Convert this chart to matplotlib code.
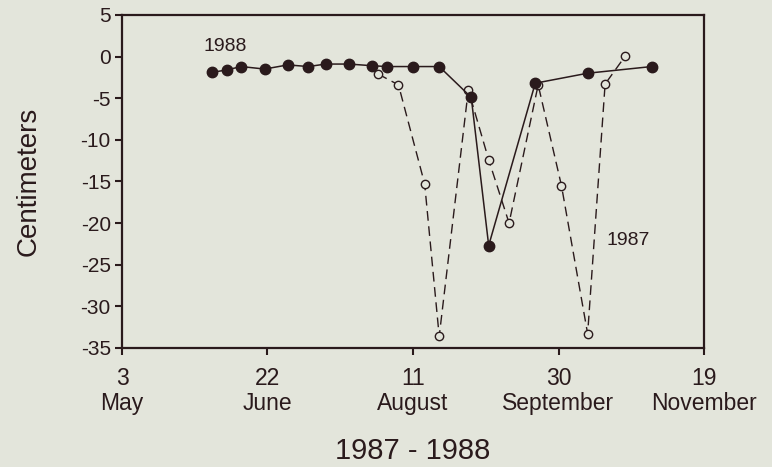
import matplotlib
matplotlib.use('Agg')
import matplotlib.pyplot as plt

plt.rcParams['font.family'] = ['Liberation Sans', 'DejaVu Sans']

# days after 3 May
days_1988 = [31, 36, 41, 49, 57, 64, 70, 78, 86, 91, 100, 109, 120, 126, 142, 160, 182]
cm_1988 = [-1.9, -1.6, -1.2, -1.5, -1.0, -1.2, -0.9, -0.9, -1.1, -1.2, -1.2, -1.2,
           -4.9, -22.7, -3.2, -2.0, -1.2]

days_1987 = [88, 95, 104, 109, 119, 126, 133, 143, 151, 160, 166, 173]
cm_1987 = [-2.1, -3.4, -15.3, -33.6, -4.0, -12.4, -20.0, -3.4, -15.5, -33.3, -3.3, 0.1]

tick_days = [0, 50, 100, 150, 200]
tick_labels = ['3\nMay', '22\nJune', '11\nAugust', '30\nSeptember', '19\nNovember']
y_ticks = [5, 0, -5, -10, -15, -20, -25, -30, -35]

bg = '#e3e5db'
ink = '#2a1a1c'

fig = plt.figure(figsize=(7.72, 4.67), dpi=100, facecolor=bg)
ax = fig.add_axes([0.158, 0.255, 0.754, 0.713], facecolor=bg)

ax.plot(days_1987, cm_1987, color=ink, lw=1.0, dashes=(7, 4),
        marker='o', ms=6, mfc=bg, mec=ink, mew=1.0)
ax.plot(days_1988, cm_1988, color=ink, lw=1.1, marker='o', ms=7.5,
        mfc=ink, mec=ink)

ax.text(35.4, 1.2, '1988', fontsize=14, color=ink, ha='center', va='center')
ax.text(174, -22.1, '1987', fontsize=14, color=ink, ha='center', va='center')

ax.set_xlim(0, 200)
ax.set_ylim(-35, 5)
ax.set_xticks(tick_days)
ax.set_xticklabels(tick_labels, fontsize=16.5, color=ink, linespacing=1.1)
ax.set_yticks(y_ticks)
ax.set_yticklabels([str(v) for v in y_ticks], fontsize=15, color=ink)
ax.tick_params(direction='out', length=5, width=1.5, color=ink)
ax.tick_params(axis='x', pad=9)
ax.tick_params(axis='y', pad=3)

for s in ax.spines.values():
    s.set_linewidth(1.6)
    s.set_color(ink)

ax.set_ylabel('Centimeters', fontsize=20, color=ink, labelpad=28)
ax.set_xlabel('1987 - 1988', fontsize=21, color=ink, labelpad=16)

fig.savefig('out.png', dpi=100, facecolor=bg)
